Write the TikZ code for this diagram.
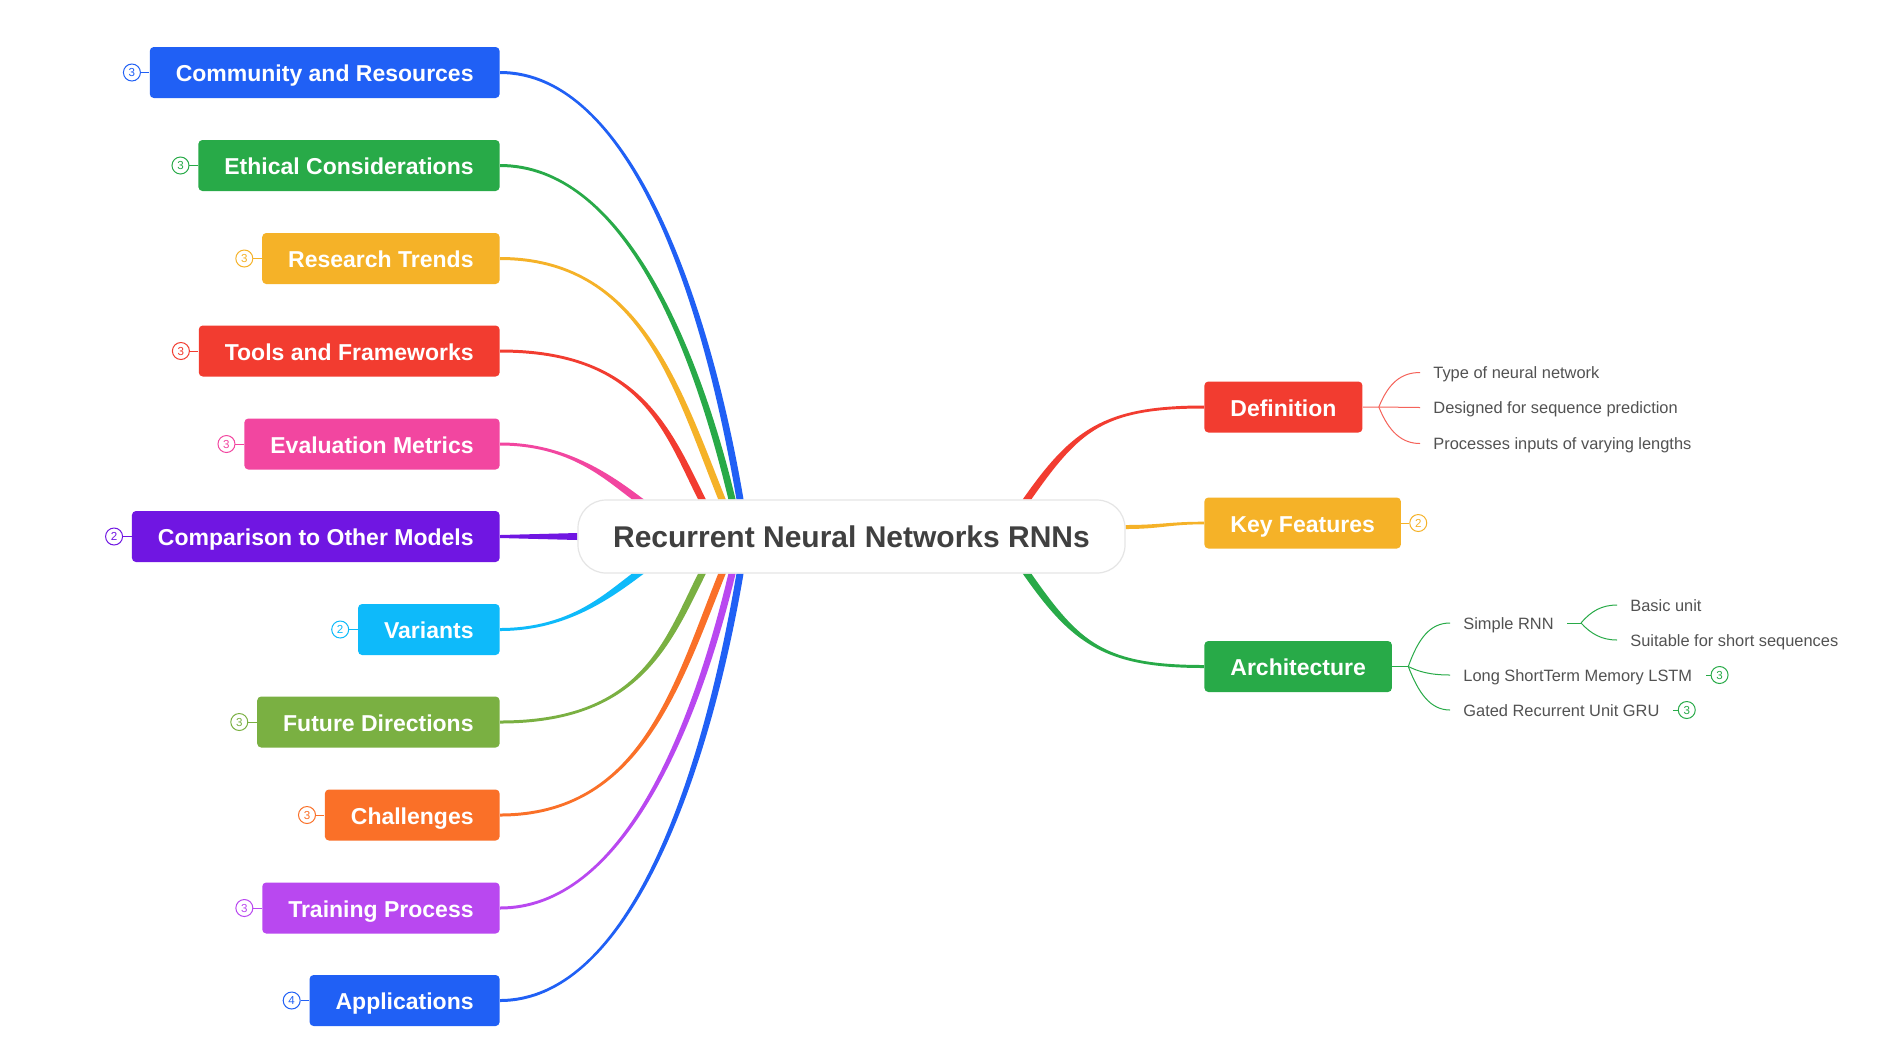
\documentclass[tikz,border=0pt]{standalone}
\usepackage{fontspec}
\setmainfont{Liberation Sans}
\usetikzlibrary{calc}
\usetikzlibrary{positioning, backgrounds}

\definecolor{cblue}{RGB}{32,96,245}
\definecolor{cgreen}{RGB}{40,170,72}
\definecolor{camber}{RGB}{245,178,40}
\definecolor{cred}{RGB}{242,60,48}
\definecolor{cpink}{RGB}{242,70,160}
\definecolor{cpurple}{RGB}{112,22,226}
\definecolor{ccyan}{RGB}{14,186,250}
\definecolor{colive}{RGB}{122,176,66}
\definecolor{corange}{RGB}{250,112,40}
\definecolor{cviolet}{RGB}{185,72,240}

\tikzset{
    root/.style={fill=white, draw=black!10, line width=0.6pt, rounded corners=14pt,
        minimum width=273.5pt, minimum height=36.5pt, text=black!75,
        font=\bfseries\fontsize{15}{18}\selectfont},
    topic/.style={fill=#1, text=white, rounded corners=2pt, minimum height=25.5pt,
        inner xsep=13pt, text height=10.6pt, text depth=1.4pt,
        font=\bfseries\fontsize{11.5}{13}\selectfont},
    badge/.style={circle, draw=#1, text=#1, line width=0.5pt, inner sep=0pt,
        minimum size=8.5pt, font=\fontsize{5.8}{6}\selectfont},
    leaf/.style={anchor=west, text=black!68, inner xsep=6.5pt, inner ysep=2pt,
        text height=7.6pt, text depth=1.2pt, font=\fontsize{8.2}{10}\selectfont},
    twig/.style={line width=0.5pt}
}

\begin{document}
\begin{tikzpicture}[x=0.5pt, y=-0.5pt]
        \useasboundingbox (0,0) rectangle (1890,1057);

        % Central topic
        \node[root] (root) at (851.5,536.5) {Recurrent Neural Networks RNNs};

        % Left topics
        \node[topic=cblue, anchor=east] (comm) at (500,72.5) {Community and Resources};
        \node[topic=cgreen, anchor=east] (eth) at (500,165.5) {Ethical Considerations};
        \node[topic=camber, anchor=east] (res) at (500,258.5) {Research Trends};
        \node[topic=cred, anchor=east] (tools) at (500,351) {Tools and Frameworks};
        \node[topic=cpink, anchor=east] (eval) at (500,444) {Evaluation Metrics};
        \node[topic=cpurple, anchor=east] (comp) at (500,536.5) {Comparison to Other Models};
        \node[topic=ccyan, anchor=east] (var) at (500,629.5) {Variants};
        \node[topic=colive, anchor=east] (fut) at (500,722) {Future Directions};
        \node[topic=corange, anchor=east] (chal) at (500,815) {Challenges};
        \node[topic=cviolet, anchor=east] (train) at (500,908) {Training Process};
        \node[topic=cblue, anchor=east] (app) at (500,1000.5) {Applications};

        % Collapsed counts on the left
        \foreach \nm/\col/\cnt in {comm/cblue/3, eth/cgreen/3, res/camber/3, tools/cred/3,
                eval/cpink/3, comp/cpurple/2, var/ccyan/2, fut/colive/3, chal/corange/3,
                train/cviolet/3, app/cblue/4} {
            \node[badge=\col, left=4.25pt of \nm] (\nm b) {\cnt};
            \draw[\col, line width=0.5pt] (\nm b) -- (\nm);
        }

        % Right topics
        \node[topic=cred, anchor=west] (def) at (1204,407) {Definition};
        \node[topic=camber, anchor=west] (kf) at (1204,523) {Key Features};
        \node[topic=cgreen, anchor=west] (arch) at (1204,666.5) {Architecture};
        \node[badge=camber, right=4pt of kf] (kfb) {2};
        \draw[camber, line width=0.5pt] (kfb) -- (kf);

        % Definition details
        \coordinate (deffork) at ($(def.east)+(16,0)$);
        \node[leaf] (d1) at (1420,372.5) {Type of neural network};
        \node[leaf] (d2) at (1420,407.5) {Designed for sequence prediction};
        \node[leaf] (d3) at (1420,443.5) {Processes inputs of varying lengths};
        \draw[twig, cred!80] (def.east) -- (deffork) -- (d2.west);
        \draw[twig, cred!80] (deffork) .. controls +(10,-25) and +(-18,0) .. (d1.west);
        \draw[twig, cred!80] (deffork) .. controls +(10,25) and +(-18,0) .. (d3.west);

        % Architecture details
        \coordinate (archfork) at ($(arch.east)+(16,0)$);
        \node[leaf] (sr) at (1450,623) {Simple RNN};
        \node[leaf] (lstm) at (1450,675) {Long ShortTerm Memory LSTM};
        \node[leaf] (gru) at (1450,710) {Gated Recurrent Unit GRU};
        \draw[twig, cgreen] (arch.east) -- (archfork);
        \draw[twig, cgreen] (archfork) .. controls +(10,-28) and +(-20,0) .. (sr.west);
        \draw[twig, cgreen] (archfork) .. controls +(10,5) and +(-20,0) .. (lstm.west);
        \draw[twig, cgreen] (archfork) .. controls +(10,26) and +(-20,0) .. (gru.west);
        \node[badge=cgreen, right=2.5pt of lstm] (lstmb) {3};
        \node[badge=cgreen, right=2.5pt of gru] (grub) {3};
        \draw[cgreen, line width=0.5pt] (lstmb) -- (lstm);
        \draw[cgreen, line width=0.5pt] (grub) -- (gru);

        % Simple RNN details
        \coordinate (srfork) at ($(sr.east)+(14,0)$);
        \node[leaf] (s1) at (1617,605) {Basic unit};
        \node[leaf] (s2) at (1617,640) {Suitable for short sequences};
        \draw[twig, cgreen] (sr.east) -- (srfork);
        \draw[twig, cgreen] (srfork) .. controls +(10,-12) and +(-15,0) .. (s1.west);
        \draw[twig, cgreen] (srfork) .. controls +(10,11) and +(-15,0) .. (s2.west);

        % Branches, tapered, behind the nodes
        \begin{scope}[on background layer]
            \fill[white] (0,0) rectangle (1890,1057);
            % upper left
            \foreach \nm/\col/\tx/\ca/\cb/\slp in {comm/cblue/740/130/200/0.17,
                    eth/cgreen/732/122/157/0.24, res/camber/722/140/113/0.4,
                    tools/cred/702/140/70/0.5, eval/cpink/638/70/20/1.36} {
                \pgfmathsetmacro\dw{3.5*sqrt(1+\slp*\slp)}
                \fill[\col] ($(\nm.east)+(0,-1.5)$) .. controls +(\ca,0) and +(-\slp*\cb,-\cb) .. ($(root.north -| \tx,0)+(\dw,0)$)
                    -- ($(root.north -| \tx,0)+(-\dw,0)$) .. controls +(-\slp*\cb,-\cb) and +(\ca,0) .. ($(\nm.east)+(0,1.5)$) -- cycle;
            }
            % lower left
            \foreach \nm/\col/\tx/\ca/\cb/\slp in {app/cblue/740/130/200/0.17,
                    train/cviolet/732/122/157/0.24, chal/corange/722/140/113/0.4,
                    fut/colive/702/140/70/0.5, var/ccyan/638/70/20/1.36} {
                \pgfmathsetmacro\dw{3.5*sqrt(1+\slp*\slp)}
                \fill[\col] ($(\nm.east)+(0,1.5)$) .. controls +(\ca,0) and +(-\slp*\cb,\cb) .. ($(root.south -| \tx,0)+(\dw,0)$)
                    -- ($(root.south -| \tx,0)+(-\dw,0)$) .. controls +(-\slp*\cb,\cb) and +(\ca,0) .. ($(\nm.east)+(0,-1.5)$) -- cycle;
            }
            % straight one
            \fill[cpurple] ($(comp.east)+(0,-1.5)$) -- ($(root.west)+(0,-3.5)$)
                -- ($(root.west)+(0,3.5)$) -- ($(comp.east)+(0,1.5)$) -- cycle;
            % right side
            \fill[cred] ($(def.west)+(0,-1.5)$) .. controls +(-100,0) and +(49,-70) .. ($(root.north -| 1027,0)+(-4.3,0)$)
                -- ($(root.north -| 1027,0)+(4.3,0)$) .. controls +(49,-70) and +(-100,0) .. ($(def.west)+(0,1.5)$) -- cycle;
            \fill[cgreen] ($(arch.west)+(0,1.5)$) .. controls +(-100,0) and +(49,70) .. ($(root.south -| 1027,0)+(-4.3,0)$)
                -- ($(root.south -| 1027,0)+(4.3,0)$) .. controls +(49,70) and +(-100,0) .. ($(arch.west)+(0,-1.5)$) -- cycle;
            \fill[camber] ($(kf.west)+(0,-1.3)$) .. controls +(-35,0) and +(35,0) .. ($(root.east)+(0,-11.5)$)
                -- ($(root.east)+(0,-7.5)$) .. controls +(35,0) and +(-35,0) .. ($(kf.west)+(0,1.3)$) -- cycle;
        \end{scope}
\end{tikzpicture}
\end{document}
